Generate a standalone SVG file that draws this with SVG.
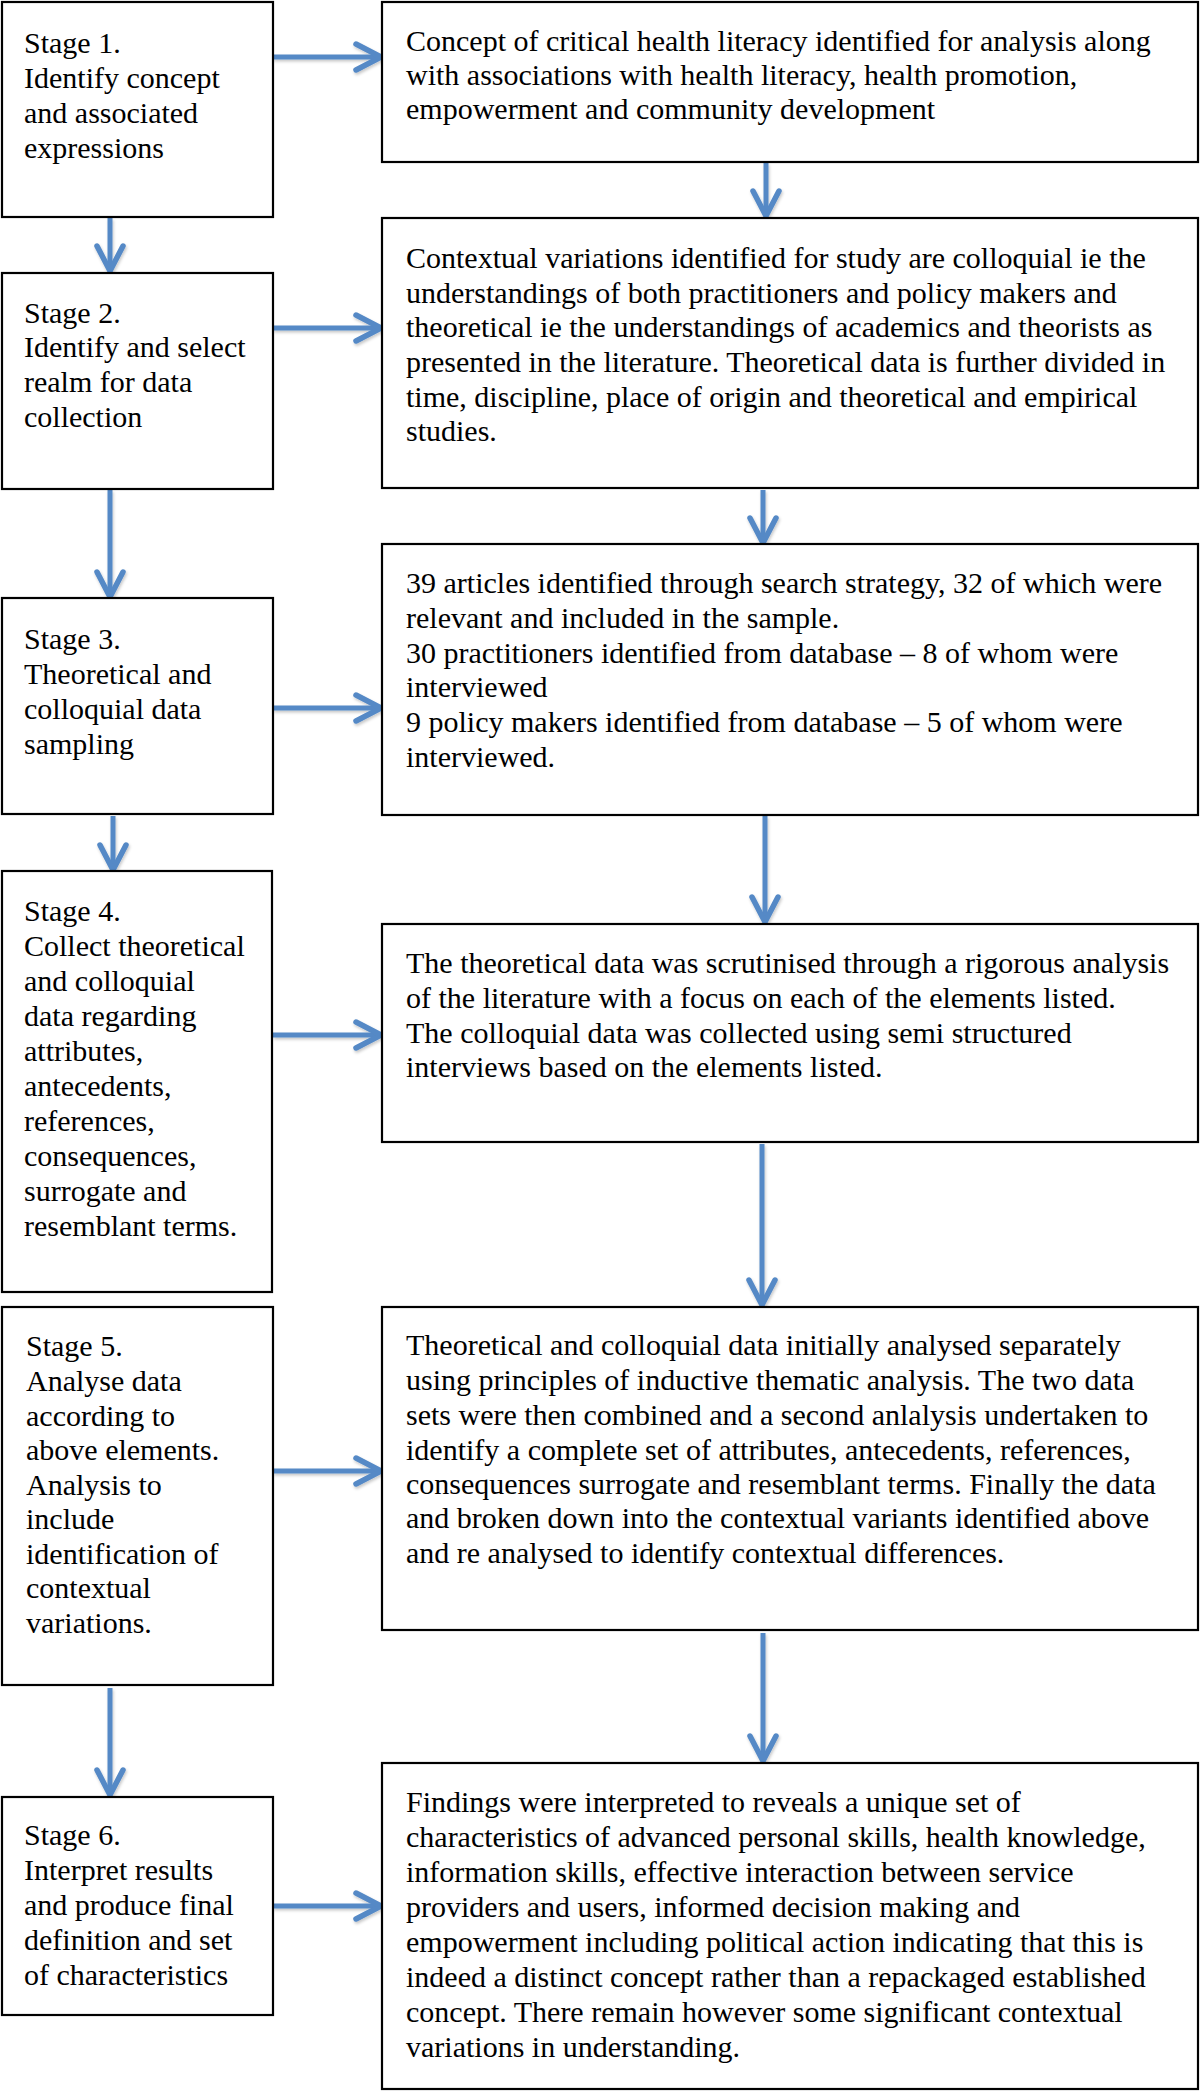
<svg xmlns="http://www.w3.org/2000/svg" width="1200" height="2091" viewBox="0 0 1200 2091">
<style>
.box{fill:#ffffff;stroke:#000000;stroke-width:2.2}
.t{font-family:"Liberation Serif","Times New Roman",serif;font-size:30px;fill:#000000}
.arr{stroke:#5589C6;stroke-width:5;fill:none;marker-end:url(#ah)}
</style>
<defs>
<marker id="ah" markerUnits="userSpaceOnUse" markerWidth="34" markerHeight="34" viewBox="0 0 34 34" refX="30" refY="17" orient="auto">
<path d="M5,4 L30,17 L5,30" fill="none" stroke="#5589C6" stroke-width="5.5" stroke-linecap="round" stroke-linejoin="round"/>
</marker>
<filter id="sh" x="-20%" y="-20%" width="140%" height="140%">
<feDropShadow dx="1" dy="2" stdDeviation="1.5" flood-color="#000000" flood-opacity="0.22"/>
</filter>
</defs>
<rect width="1200" height="2091" fill="#ffffff"/>

<g id="connectors" filter="url(#sh)">
<line class="arr" x1="273" y1="57" x2="381" y2="57"/>
<line class="arr" x1="273" y1="328" x2="381" y2="328"/>
<line class="arr" x1="273" y1="708" x2="381" y2="708"/>
<line class="arr" x1="273" y1="1035" x2="381" y2="1035"/>
<line class="arr" x1="273" y1="1471" x2="381" y2="1471"/>
<line class="arr" x1="273" y1="1906" x2="381" y2="1906"/>
<line class="arr" x1="110" y1="218" x2="110" y2="271"/>
<line class="arr" x1="110" y1="490" x2="110" y2="597"/>
<line class="arr" x1="113" y1="816" x2="113" y2="870"/>
<line class="arr" x1="110" y1="1688" x2="110" y2="1795"/>
<line class="arr" x1="766" y1="163" x2="766" y2="216"/>
<line class="arr" x1="763" y1="490" x2="763" y2="543"/>
<line class="arr" x1="765" y1="816" x2="765" y2="922"/>
<line class="arr" x1="762" y1="1144" x2="762" y2="1305"/>
<line class="arr" x1="763" y1="1633" x2="763" y2="1761"/>
</g>

<g id="stage1">
<rect class="box" x="2" y="2" width="271" height="215"/>
<text class="t"><tspan x="24" y="53">Stage 1.</tspan><tspan x="24" y="88">Identify concept</tspan><tspan x="24" y="123">and associated</tspan><tspan x="24" y="158">expressions</tspan></text>
</g>
<g id="stage2">
<rect class="box" x="2" y="273" width="271" height="216"/>
<text class="t"><tspan x="24" y="323">Stage 2.</tspan><tspan x="24" y="357">Identify and select</tspan><tspan x="24" y="392">realm for data</tspan><tspan x="24" y="427">collection</tspan></text>
</g>
<g id="stage3">
<rect class="box" x="2" y="598" width="271" height="216"/>
<text class="t"><tspan x="24" y="649">Stage 3.</tspan><tspan x="24" y="684">Theoretical and</tspan><tspan x="24" y="719">colloquial data</tspan><tspan x="24" y="754">sampling</tspan></text>
</g>
<g id="stage4">
<rect class="box" x="2" y="871" width="270" height="421"/>
<text class="t"><tspan x="24" y="921">Stage 4.</tspan><tspan x="24" y="956">Collect theoretical</tspan><tspan x="24" y="991">and colloquial</tspan><tspan x="24" y="1026">data regarding</tspan><tspan x="24" y="1061">attributes,</tspan><tspan x="24" y="1096">antecedents,</tspan><tspan x="24" y="1131">references,</tspan><tspan x="24" y="1166">consequences,</tspan><tspan x="24" y="1201">surrogate and</tspan><tspan x="24" y="1236">resemblant terms.</tspan></text>
</g>
<g id="stage5">
<rect class="box" x="2" y="1307" width="271" height="378"/>
<text class="t"><tspan x="26" y="1356">Stage 5.</tspan><tspan x="26" y="1391">Analyse data</tspan><tspan x="26" y="1426">according to</tspan><tspan x="26" y="1460">above elements.</tspan><tspan x="26" y="1495">Analysis to</tspan><tspan x="26" y="1529">include</tspan><tspan x="26" y="1564">identification of</tspan><tspan x="26" y="1598">contextual</tspan><tspan x="26" y="1633">variations.</tspan></text>
</g>
<g id="stage6">
<rect class="box" x="2" y="1797" width="271" height="218"/>
<text class="t"><tspan x="24" y="1845">Stage 6.</tspan><tspan x="24" y="1880">Interpret results</tspan><tspan x="24" y="1915">and produce final</tspan><tspan x="24" y="1950">definition and set</tspan><tspan x="24" y="1985">of characteristics</tspan></text>
</g>

<g id="result1">
<rect class="box" x="382" y="2" width="816" height="160"/>
<text class="t"><tspan x="406" y="51">Concept of critical health literacy identified for analysis along</tspan><tspan x="406" y="85">with associations with health literacy, health promotion,</tspan><tspan x="406" y="119">empowerment and community development</tspan></text>
</g>
<g id="result2">
<rect class="box" x="382" y="218" width="816" height="270"/>
<text class="t"><tspan x="406" y="268">Contextual variations identified for study are colloquial ie the</tspan><tspan x="406" y="303">understandings of both practitioners and policy makers and</tspan><tspan x="406" y="337">theoretical ie the understandings of academics and theorists as</tspan><tspan x="406" y="372">presented in the literature. Theoretical data is further divided in</tspan><tspan x="406" y="407">time, discipline, place of origin and theoretical and empirical</tspan><tspan x="406" y="441">studies.</tspan></text>
</g>
<g id="result3">
<rect class="box" x="382" y="544" width="816" height="271"/>
<text class="t"><tspan x="406" y="593">39 articles identified through search strategy, 32 of which were</tspan><tspan x="406" y="628">relevant and included in the sample.</tspan><tspan x="406" y="663">30 practitioners identified from database – 8 of whom were</tspan><tspan x="406" y="697">interviewed</tspan><tspan x="406" y="732">9 policy makers identified from database – 5 of whom were</tspan><tspan x="406" y="767">interviewed.</tspan></text>
</g>
<g id="result4">
<rect class="box" x="382" y="924" width="816" height="218"/>
<text class="t"><tspan x="406" y="973">The theoretical data was scrutinised through a rigorous analysis</tspan><tspan x="406" y="1008">of the literature with a focus on each of the elements listed.</tspan><tspan x="406" y="1043">The colloquial data was collected using semi structured</tspan><tspan x="406" y="1077">interviews based on the elements listed.</tspan></text>
</g>
<g id="result5">
<rect class="box" x="382" y="1307" width="816" height="323"/>
<text class="t"><tspan x="406" y="1355">Theoretical and colloquial data initially analysed separately</tspan><tspan x="406" y="1390">using principles of inductive thematic analysis. The two data</tspan><tspan x="406" y="1425">sets were then combined and a second anlalysis undertaken to</tspan><tspan x="406" y="1460">identify a complete set of attributes, antecedents, references,</tspan><tspan x="406" y="1494">consequences surrogate and resemblant terms. Finally the data</tspan><tspan x="406" y="1528">and broken down into the contextual variants identified above</tspan><tspan x="406" y="1563">and re analysed to identify contextual differences.</tspan></text>
</g>
<g id="result6">
<rect class="box" x="382" y="1763" width="816" height="326"/>
<text class="t"><tspan x="406" y="1812">Findings were interpreted to reveals a unique set of</tspan><tspan x="406" y="1847">characteristics of advanced personal skills, health knowledge,</tspan><tspan x="406" y="1882">information skills, effective interaction between service</tspan><tspan x="406" y="1917">providers and users, informed decision making and</tspan><tspan x="406" y="1952">empowerment including political action indicating that this is</tspan><tspan x="406" y="1987">indeed a distinct concept rather than a repackaged established</tspan><tspan x="406" y="2022">concept. There remain however some significant contextual</tspan><tspan x="406" y="2057">variations in understanding.</tspan></text>
</g>
</svg>
